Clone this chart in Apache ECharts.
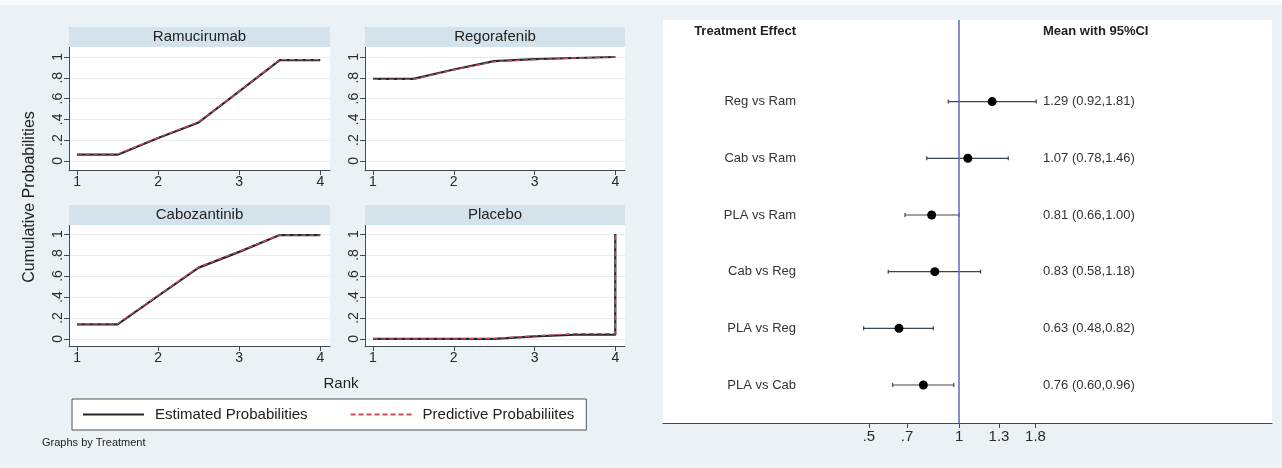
<!DOCTYPE html>
<html><head><meta charset="utf-8">
<script src="https://cdn.jsdelivr.net/npm/echarts@6/dist/echarts.min.js"></script>
<style>html,body{margin:0;padding:0;background:#eaf2f5}#c{width:1282px;height:468px}</style>
</head><body><div id="c"></div>
<script>
// ---- data ----
const treatments = ['Ramucirumab', 'Regorafenib', 'Cabozantinib', 'Placebo'];
const ranks = [1, 1.5, 2, 2.5, 3, 3.5, 4];
const ranksPlacebo = [1, 1.5, 2, 2.5, 3, 3.5, 4, 4];
const estRamucirumab = [0.06, 0.06, 0.22, 0.37, 0.67, 0.97, 0.97];
const estRegorafenib = [0.79, 0.79, 0.88, 0.96, 0.98, 0.99, 1.00];
const estCabozantinib = [0.14, 0.14, 0.41, 0.68, 0.83, 0.99, 0.99];
const estPlacebo = [0.00, 0.00, 0.00, 0.00, 0.025, 0.04, 0.04, 1.00];
const predRamucirumab = [0.065, 0.065, 0.225, 0.375, 0.67, 0.975, 0.975];
const predRegorafenib = [0.785, 0.785, 0.875, 0.955, 0.975, 0.99, 1.00];
const predCabozantinib = [0.145, 0.145, 0.415, 0.685, 0.835, 0.99, 0.99];
const predPlacebo = [0.00, 0.00, 0.00, 0.005, 0.03, 0.05, 0.05, 1.00];
const rankTicks = [1, 2, 3, 4];
const probTicks = [0, 0.2, 0.4, 0.6, 0.8, 1];
const probTickLabels = ['0', '.2', '.4', '.6', '.8', '1'];

const comparisons = ['Reg vs Ram', 'Cab vs Ram', 'PLA vs Ram', 'Cab vs Reg', 'PLA vs Reg', 'PLA vs Cab'];
const means = [1.29, 1.07, 0.81, 0.83, 0.63, 0.76];
const lowers = [0.92, 0.78, 0.66, 0.58, 0.48, 0.60];
const uppers = [1.81, 1.46, 1.00, 1.18, 0.82, 0.96];
const effectTicks = [0.5, 0.67, 1, 1.36, 1.8];
const effectTickLabels = ['.5', '.7', '1', '1.3', '1.8'];

// ---- chart ----
const FONT = '"Liberation Sans", Arial, sans-serif';
const AX = '#3e4a55';
const estSeries = [estRamucirumab, estRegorafenib, estCabozantinib, estPlacebo];
const predSeries = [predRamucirumab, predRegorafenib, predCabozantinib, predPlacebo];
const rankSets = [ranks, ranks, ranks, ranksPlacebo];

const panelGrids = [
  {left: 69, top: 47, width: 261, height: 123},
  {left: 365, top: 47, width: 260, height: 123},
  {left: 69, top: 225, width: 261, height: 121},
  {left: 365, top: 225, width: 260, height: 121}
];
const yRanges = [[-0.087, 1.096], [-0.087, 1.096], [-0.067, 1.086], [-0.067, 1.086]];

const grids = panelGrids.map(g => Object.assign({show: true, backgroundColor: '#ffffff', borderWidth: 0}, g));
grids.push({left: 663, top: 20, width: 609, height: 403, show: true, backgroundColor: '#ffffff', borderWidth: 0});

const xAxes = panelGrids.map((g, i) => ({
  gridIndex: i, type: 'value', min: 0.901, max: 4.12,
  axisLine: {onZero: false, lineStyle: {color: AX, width: 1}},
  axisTick: {customValues: rankTicks, length: 5, lineStyle: {color: AX}},
  axisLabel: {customValues: rankTicks, fontFamily: FONT, fontSize: 14, color: '#2a2a2a', margin: 5},
  splitLine: {show: false}
}));
xAxes.push({
  gridIndex: 4, type: 'log', logBase: 10, min: 0.1026, max: 11.1,
  axisLine: {onZero: false, lineStyle: {color: AX, width: 1.2}},
  axisTick: {customValues: effectTicks, length: 5, lineStyle: {color: AX}},
  axisLabel: {
    customValues: effectTicks, fontFamily: FONT, fontSize: 15, color: '#2a2a2a', margin: 6,
    formatter: v => {
      let k = effectTicks.findIndex(t => Math.abs(t - v) < 1e-6);
      return k >= 0 ? effectTickLabels[k] : '';
    }
  },
  splitLine: {show: false}, minorTick: {show: false}
});

const yAxes = panelGrids.map((g, i) => ({
  gridIndex: i, type: 'value', min: yRanges[i][0], max: yRanges[i][1],
  axisLine: {show: true, onZero: false, lineStyle: {color: AX, width: 1}},
  axisTick: {show: true, customValues: probTicks, length: 5, lineStyle: {color: AX}},
  axisLabel: {
    customValues: probTicks, rotate: 90, fontFamily: FONT, fontSize: 14, color: '#2a2a2a', margin: 4,
    formatter: v => {
      let k = probTicks.findIndex(t => Math.abs(t - v) < 1e-6);
      return k >= 0 ? probTickLabels[k] : '';
    }
  },
  splitLine: {show: true, lineStyle: {color: '#e6edf1', width: 1}}
}));
yAxes.push({gridIndex: 4, type: 'value', inverse: true, min: -0.44, max: 6.67, show: false});

const series = [];
treatments.forEach((t, i) => {
  series.push({
    name: 'Estimated Probabilities', type: 'line', xAxisIndex: i, yAxisIndex: i,
    data: rankSets[i].map((r, j) => [r, estSeries[i][j]]),
    symbol: 'none', lineStyle: {color: '#24262f', width: 2.2}, itemStyle: {color: '#24262f'}, z: 2
  });
  series.push({
    name: 'Predictive Probabiliites', type: 'line', xAxisIndex: i, yAxisIndex: i,
    data: rankSets[i].map((r, j) => [r, predSeries[i][j]]),
    symbol: 'none', lineStyle: {color: '#d04a5c', width: 1.3, type: [5, 3]}, itemStyle: {color: '#d04a5c'}, z: 3
  });
});

series.push({
  type: 'custom', xAxisIndex: 4, yAxisIndex: 4, z: 3,
  data: comparisons.map((c, i) => [means[i], i + 1, lowers[i], uppers[i], i]),
  encode: {x: [0, 2, 3], y: 1},
  renderItem: (params, api) => {
    const row = api.value(1);
    const lo = api.coord([api.value(2), row]);
    const hi = api.coord([api.value(3), row]);
    const idx = api.value(4);
    const cs = params.coordSys;
    const st = {stroke: '#3a4652', lineWidth: 1.2};
    const txt = means[idx].toFixed(2) + ' (' + lowers[idx].toFixed(2) + ',' + uppers[idx].toFixed(2) + ')';
    return {type: 'group', children: [
      {type: 'line', shape: {x1: lo[0], y1: lo[1], x2: hi[0], y2: hi[1]}, style: st},
      {type: 'line', shape: {x1: lo[0], y1: lo[1] - 2, x2: lo[0], y2: lo[1] + 2}, style: st},
      {type: 'line', shape: {x1: hi[0], y1: hi[1] - 2, x2: hi[0], y2: hi[1] + 2}, style: st},
      {type: 'text', style: {text: comparisons[idx], x: cs.x + 133, y: lo[1], align: 'right', verticalAlign: 'middle',
        font: '13px ' + FONT, fill: '#333'}},
      {type: 'text', style: {text: txt, x: cs.x + 380, y: lo[1], align: 'left', verticalAlign: 'middle',
        font: '13px ' + FONT, fill: '#333'}}
    ]};
  }
});
series.push({
  type: 'scatter', xAxisIndex: 4, yAxisIndex: 4, z: 4,
  data: comparisons.map((c, i) => [means[i], i + 1]),
  symbol: 'circle', symbolSize: 9, itemStyle: {color: '#000', opacity: 1},
  markLine: {silent: true, symbol: 'none', label: {show: false},
    lineStyle: {color: '#5a69c4', width: 1.5, type: 'solid'}, data: [{xAxis: 1}]}
});

const graphic = [];
graphic.push({type: 'rect', shape: {x: 0, y: 0, width: 1282, height: 5}, style: {fill: '#f6fafb'}, z: 0});
panelGrids.forEach((g, i) => {
  graphic.push({type: 'rect', shape: {x: g.left, y: g.top - 20, width: g.width, height: 20}, style: {fill: '#d4e3eb'}, z: 1});
  graphic.push({type: 'text', style: {text: treatments[i], x: g.left + g.width / 2, y: g.top - 10, align: 'center',
    verticalAlign: 'middle', font: '15px ' + FONT, fill: '#222'}, z: 2});
});
graphic.push({type: 'text', rotation: Math.PI / 2, x: 30, y: 197,
  style: {text: 'Cumulative Probabilities', x: 0, y: 0, align: 'center', verticalAlign: 'middle', font: '16px ' + FONT, fill: '#222'}});
graphic.push({type: 'text', style: {text: 'Rank', x: 341, y: 384, align: 'center', verticalAlign: 'middle', font: '15px ' + FONT, fill: '#222'}});
graphic.push({type: 'text', style: {text: 'Graphs by Treatment', x: 42, y: 443, align: 'left', verticalAlign: 'middle', font: '11px ' + FONT, fill: '#222'}});
graphic.push({type: 'text', style: {text: 'Treatment Effect', x: 796, y: 31, align: 'right', verticalAlign: 'middle', font: 'bold 13px ' + FONT, fill: '#222'}, z: 5});
graphic.push({type: 'text', style: {text: 'Mean with 95%CI', x: 1043, y: 31, align: 'left', verticalAlign: 'middle', font: 'bold 13px ' + FONT, fill: '#222'}, z: 5});

const chart = echarts.init(document.getElementById('c'), null, {renderer: 'canvas'});
chart.setOption({
  backgroundColor: '#eaf2f5',
  animation: false,
  grid: grids,
  xAxis: xAxes,
  yAxis: yAxes,
  legend: {
    data: ['Estimated Probabilities', 'Predictive Probabiliites'],
    left: 72, top: 399, orient: 'horizontal',
    itemWidth: 61, itemHeight: 14, itemGap: 42,
    itemStyle: {opacity: 0},
    backgroundColor: '#ffffff', borderColor: '#4a5560', borderWidth: 1, borderRadius: 0,
    padding: [8, 12, 8, 10],
    textStyle: {fontFamily: FONT, fontSize: 15, color: '#222', padding: [0, 0, 0, 6]}
  },
  graphic: graphic,
  series: series
});
</script></body></html>
